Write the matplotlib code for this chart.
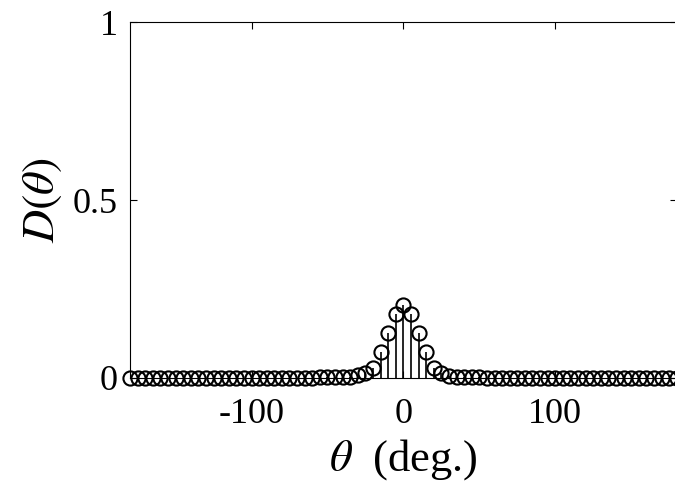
import numpy as np
import matplotlib
matplotlib.use("Agg")
import matplotlib.pyplot as plt

plt.rcParams['font.family'] = ['Liberation Serif', 'DejaVu Serif']
plt.rcParams['mathtext.fontset'] = 'stix'

# angles in degrees, 5 deg step
theta = np.arange(-180, 181, 5)

# D(theta), listed from -180 to 180
D = [0.0, 0.0, 0.0, 0.0, 0.0, 0.0, 0.0, 0.0, 0.0, 0.0,      # -180 .. -135
     0.0, 0.0, 0.0, 0.0, 0.0, 0.0, 0.0, 0.0, 0.0, 0.0,      # -130 .. -85
     0.0, 0.0, 0.0, 0.0, 0.001, 0.003, 0.004, 0.004, 0.004, 0.004,  # -80 .. -35
     0.007, 0.013, 0.027, 0.074, 0.125, 0.18, 0.205,       # -30 .. 0
     0.18, 0.125, 0.074, 0.027, 0.013, 0.006, 0.003, 0.003, 0.003, 0.002,  # 5 .. 50
     0.001, 0.0, 0.0, 0.0, 0.0, 0.0, 0.0, 0.0, 0.0, 0.0,    # 55 .. 100
     0.0, 0.0, 0.0, 0.0, 0.0, 0.0, 0.0, 0.0, 0.0, 0.0,      # 105 .. 150
     0.0, 0.0, 0.0, 0.0, 0.0, 0.0]                           # 155 .. 180

fig = plt.figure(figsize=(6.75, 4.82), dpi=100)
ax = fig.add_axes([0.1926, 0.2158, 0.81, 0.7385])

markerline, stemlines, baseline = ax.stem(theta, D, linefmt='k-', markerfmt='ko', basefmt=' ')
markerline.set_markerfacecolor('none')
markerline.set_markeredgecolor('k')
markerline.set_markersize(10.2)
markerline.set_markeredgewidth(1.5)
stemlines.set_linewidth(1.2)
markerline.set_clip_on(False)

ax.set_xlim(-180, 180)
ax.set_ylim(0, 1)
ax.set_xticks([-100, 0, 100])
ax.set_xticklabels(['-100', '0', '100'])
ax.set_yticks([0, 0.5, 1])
ax.set_yticklabels(['0', '0.5', '1'])
ax.tick_params(direction='in', length=5, width=0.8, labelsize=26,
               top=True, right=True, pad=9)
ax.tick_params(axis='x', pad=14.5)
for s in ax.spines.values():
    s.set_linewidth(0.8)

ax.set_xlabel(r'$\theta$  (deg.)', fontsize=32, labelpad=4)
ax.set_ylabel(r'$D(\theta)$', fontsize=33, labelpad=6)

fig.savefig('out.png', dpi=100)
